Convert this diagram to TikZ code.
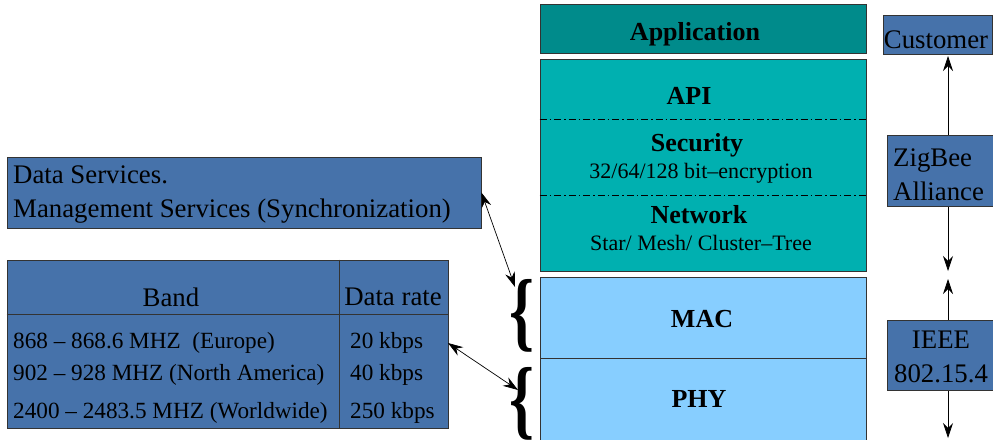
\documentclass[tikz,border=0pt]{standalone}
\usepackage{fontspec}
\setmainfont{Liberation Serif}
\usetikzlibrary{arrows.meta,calc}
\definecolor{appteal}{RGB}{0,139,139}
\definecolor{stackteal}{RGB}{0,176,176}
\definecolor{lowblue}{RGB}{135,206,255}
\definecolor{boxblue}{RGB}{70,114,170}

\begin{document}
\begin{tikzpicture}[x=1pt,y=-1pt,
  layer/.style={draw=black!80, line width=0.8pt, inner sep=0pt, minimum width=326pt},
  infobox/.style={draw=black!80, line width=0.8pt, fill=boxblue, inner sep=0pt},
  headtxt/.style={font=\fontsize{26}{30}\selectfont\bfseries, inner sep=0pt},
  subtxt/.style={font=\fontsize{22}{26}\selectfont, inner sep=0pt},
  plaintxt/.style={font=\fontsize{26.8}{34}\selectfont, inner sep=0pt},
  rowtxt/.style={font=\fontsize{23.2}{27}\selectfont, inner sep=0pt, anchor=west},
  link/.style={line width=0.7pt, black,
    {Stealth[length=15pt,width=10pt,inset=5pt]}-{Stealth[length=15pt,width=10pt,inset=5pt]}},
  sepline/.style={line width=0.5pt, dash pattern=on 7pt off 3pt on 1.5pt off 3pt},
  bracetxt/.style={font=\fontsize{88}{88}\selectfont\bfseries, inner sep=0pt, xscale=0.72}]

\useasboundingbox (0,0) rectangle (993,439);

% protocol stack
\node[layer, fill=appteal, minimum height=49pt] (app) at (703,29) {};
\node[headtxt] (apptxt) at (695,34) {Application};

\node[layer, fill=stackteal, minimum height=212pt] (upper) at (703,165) {};
\draw[sepline] (upper.west |- 0,119) -- (upper.east |- 0,119);
\draw[sepline] (upper.west |- 0,195) -- (upper.east |- 0,195);
\node[headtxt] (api) at (689,96) {API};
\node[headtxt] (sec) at (697,145) {Security};
\node[subtxt] (secsub) at (701,173) {32/64/128 bit--encryption};
\node[headtxt] (net) at (699,215) {Network};
\node[subtxt] (netsub) at (701,243) {Star/ Mesh/ Cluster--Tree};

\node[layer, fill=lowblue, minimum height=81pt] (mac) at (703,317.5) {};
\node[headtxt] (mactxt) at (702,319) {MAC};
\node[layer, fill=lowblue, minimum height=82pt] (phy) at (703,399) {};
\node[headtxt] (phytxt) at (699,399) {PHY};

% standards bodies on the right
\coordinate (up1) at (948,56);
\coordinate (up2) at (948,271);
\coordinate (lo1) at (948,279);
\coordinate (lo2) at (948,438);
\draw[link] (up1) -- (up2);
\draw[link] (lo1) -- (lo2);

\node[infobox, minimum width=109pt, minimum height=39pt] (cust) at (937.5,34.5) {};
\node[plaintxt] (custtxt) at (936,40) {Customer};
\node[infobox, minimum width=106pt, minimum height=71pt] (zig) at (940.5,170.5) {};
\node[plaintxt, align=left, anchor=west] (zigtxt) at (893,175) {ZigBee\\Alliance};
\node[infobox, minimum width=106pt, minimum height=70pt] (ieee) at (940.5,355) {};
\node[plaintxt, align=center] (ieeetxt) at (941,357) {IEEE\\802.15.4};

% services box
\node[infobox, minimum width=474pt, minimum height=71pt] (ds) at (244,192.5) {};
\node[plaintxt, align=left, anchor=west] (dstxt) at (13,195) {Data Services.\\Management Services (Synchronization)};

% frequency band table
\node[infobox, minimum width=441pt, minimum height=168pt] (tbl) at (227.5,344) {};
\draw[line width=0.8pt, black!80] (tbl.west |- 0,314) -- (tbl.east |- 0,314);
\draw[line width=0.8pt, black!80] (339,0 |- tbl.north) -- (339,0 |- tbl.south);
\node[plaintxt] (band) at (171,297) {Band};
\node[plaintxt] (rate) at (393,297) {Data rate};
\node[rowtxt] (r1) at (13,343) {868 -- 868.6 MHZ\ \ (Europe)};
\node[rowtxt] (r2) at (13,375) {902 -- 928 MHZ (North America)};
\node[rowtxt] (r3) at (13,413) {2400 -- 2483.5 MHZ (Worldwide)};
\node[rowtxt] (d1) at (350,343) {20 kbps};
\node[rowtxt] (d2) at (350,375) {40 kbps};
\node[rowtxt] (d3) at (350,413) {250 kbps};

% braces grouping MAC and PHY
\node[bracetxt] (br1) at (522,316) {\{};
\node[bracetxt] (br2) at (522,404) {\{};
\coordinate (br1tip) at (515,287);
\coordinate (br2tip) at (518,390);
\coordinate (tbltip) at (448,343);
\draw[link] (ds.east) -- (br1tip);
\draw[link] (tbltip) -- (br2tip);
\end{tikzpicture}
\end{document}
